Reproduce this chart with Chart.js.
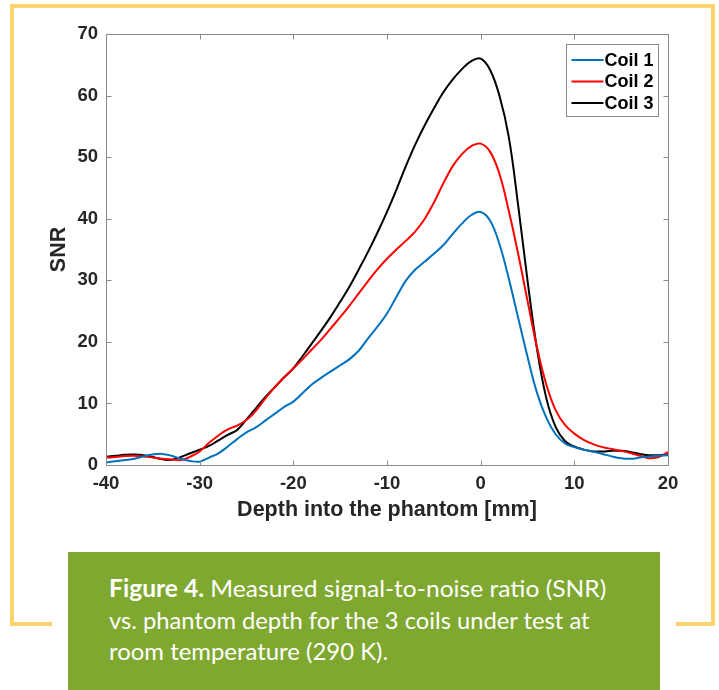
<!DOCTYPE html>
<html>
<head>
<meta charset="utf-8">
<script src="https://cdn.jsdelivr.net/npm/chart.js@4.4.1/dist/chart.umd.min.js"></script>
<style>
  html,body{margin:0;padding:0;background:#fff;}
  body{width:719px;height:690px;position:relative;overflow:hidden;}
  #frame{position:absolute;left:10px;top:4px;width:705px;height:622px;box-sizing:border-box;border:4px solid #fdd36e;}
  #gap{position:absolute;left:52px;top:620px;width:624px;height:10px;background:#fff;}
  #cap{position:absolute;left:68px;top:552px;width:592px;height:138px;background:#7ea82f;}
  .ln{position:absolute;left:109px;white-space:nowrap;color:#fff;font-family:Lato,"Open Sans",sans-serif;font-size:24px;line-height:1;transform-origin:0 100%;}
  .ln b{font-weight:700;}
  #chartWrap{position:absolute;left:0;top:0;width:719px;height:545px;}
</style>
</head>
<body>
<div id="frame"></div>
<div id="gap"></div>
<div id="cap"></div>
<div class="ln" id="l1" data-w="497" data-b="595"><b>Figure 4.</b> Measured signal-to-noise ratio (SNR)</div>
<div class="ln" id="l2" data-w="481" data-b="627">vs. phantom depth for the 3 coils under test at</div>
<div class="ln" id="l3" data-w="279" data-b="658">room temperature (290 K).</div>
<div id="chartWrap"><canvas id="c" width="719" height="545"></canvas></div>
<script>
// ---- data ----
const depth = [];
for (let d = -40; d <= 20; d++) depth.push(d);
const coil1 = [0.45,0.6,0.8,1.0,1.4,1.7,1.8,1.5,1.0,0.65,
  0.55,1.2,1.9,3.0,4.2,5.3,6.1,7.2,8.3,9.4,
  10.3,11.7,13.1,14.2,15.2,16.2,17.2,18.6,20.6,22.5,
  24.6,27.3,29.9,31.7,33.0,34.3,35.7,37.5,39.2,40.6,
  41.1,39.7,35.9,30.3,23.9,17.6,11.8,7.7,5.0,3.5,
  2.9,2.5,2.2,1.8,1.4,1.1,1.0,1.2,1.4,1.5,1.6];
const coil2 = [1.2,1.3,1.45,1.5,1.4,1.2,1.0,0.9,0.8,1.35,
  2.2,3.6,4.8,5.8,6.4,7.3,8.8,10.8,12.6,14.2,
  15.7,17.2,18.8,20.4,22.2,24.0,25.9,27.9,29.9,31.8,
  33.5,35.0,36.4,37.9,39.9,42.6,45.7,48.5,50.5,51.8,
  52.2,50.9,47.3,41.3,34.3,26.7,19.2,13.1,8.9,6.5,
  5.1,4.1,3.4,2.9,2.6,2.3,1.95,1.5,1.1,1.3,2.1];
const coil3 = [1.35,1.5,1.65,1.7,1.6,1.3,0.95,0.85,1.3,1.9,
  2.5,3.1,4.0,4.9,5.7,7.4,9.2,11.0,12.6,14.2,
  15.7,17.7,19.8,21.9,24.1,26.5,29.0,31.8,34.7,37.8,
  41.1,44.7,48.5,52.0,55.1,57.9,60.5,62.6,64.3,65.6,
  66.0,64.2,60.0,53.3,42.2,30.0,19.0,10.9,6.2,3.9,
  3.0,2.5,2.2,2.2,2.3,2.3,2.1,1.8,1.6,1.6,1.7];
const seriesNames = ['Coil 1','Coil 2','Coil 3'];
const xTicks = [-40,-30,-20,-10,0,10,20];
const yTicks = [0,10,20,30,40,50,60,70];
const xTitle = 'Depth into the phantom [mm]';
const yTitle = 'SNR';

// ---- caption line fitting ----
document.querySelectorAll('.ln').forEach(el => {
  const w = el.offsetWidth, h = el.offsetHeight;
  const k = (+el.dataset.w) / w;
  el.style.transform = 'scaleX(' + k + ')';
  el.style.top = (+el.dataset.b - h * 0.8) + 'px';
});

const colors = ['#0072BD', '#FF0000', '#000000'];
const AXIS = '#8a8a8a';
const TXT = '#262626';
const FONT = "'Liberation Sans', Arial, sans-serif";

const mk = arr => depth.map((d, i) => ({x: d, y: arr[i]}));
const dsets = [coil1, coil2, coil3].map((arr, i) => ({
  label: seriesNames[i], data: mk(arr), borderColor: colors[i],
  borderWidth: 2, pointRadius: 0, tension: 0.4, fill: false
}));

const boxPlugin = {
  id: 'matlabBox',
  afterDraw(chart) {
    const {ctx, chartArea: a, scales: {x, y}} = chart;
    ctx.save();
    ctx.strokeStyle = AXIS; ctx.lineWidth = 1;
    const L = Math.round(a.left) + 0.5, R = Math.round(a.right) + 0.5;
    const T = Math.round(a.top) + 0.5, B = Math.round(a.bottom) + 0.5;
    ctx.strokeRect(L, T, R - L, B - T);
    const tl = 5;
    ctx.beginPath();
    x.ticks.forEach(t => {
      const p = Math.round(x.getPixelForValue(t.value)) + 0.5;
      ctx.moveTo(p, B); ctx.lineTo(p, B - tl);
      ctx.moveTo(p, T); ctx.lineTo(p, T + tl);
    });
    y.ticks.forEach(t => {
      const p = Math.round(y.getPixelForValue(t.value)) + 0.5;
      ctx.moveTo(L, p); ctx.lineTo(L + tl, p);
      ctx.moveTo(R, p); ctx.lineTo(R - tl, p);
    });
    ctx.stroke();
    // legend
    const bx = Math.round(a.right) - 101.5, by = Math.round(a.top) + 10.5, bw = 92, bh = 72;
    ctx.fillStyle = '#fff';
    ctx.fillRect(bx, by, bw, bh);
    ctx.strokeStyle = AXIS;
    ctx.strokeRect(bx, by, bw, bh);
    ctx.font = 'bold 18px ' + FONT;
    ctx.textBaseline = 'middle';
    ctx.textAlign = 'left';
    chart.data.datasets.forEach((ds, i) => {
      const ry = by + 15.5 + i * 21.5;
      ctx.strokeStyle = ds.borderColor; ctx.lineWidth = 2;
      ctx.beginPath(); ctx.moveTo(bx + 5, ry); ctx.lineTo(bx + 37, ry); ctx.stroke();
      ctx.fillStyle = '#000';
      ctx.fillText(ds.label, bx + 38, ry + 1);
    });
    ctx.restore();
  }
};

new Chart(document.getElementById('c'), {
  type: 'line',
  data: {datasets: dsets},
  options: {
    responsive: false, animation: false, devicePixelRatio: 1,
    layout: {padding: {left: 0, right: 51, top: 34, bottom: 0}},
    plugins: {legend: {display: false}, tooltip: {enabled: false}},
    scales: {
      x: {
        type: 'linear', min: -40, max: 20,
        afterFit: s => { s.height = 80; },
        afterBuildTicks: s => { s.ticks = xTicks.map(v => ({value: v})); },
        grid: {display: false, drawTicks: false},
        border: {display: false},
        ticks: {padding: 8, color: TXT, font: {family: FONT, size: 18.5, weight: 'bold'}},
        title: {display: true, text: xTitle, color: TXT, padding: {top: 0, bottom: 22},
                font: {family: FONT, size: 21.5, weight: 'bold'}}
      },
      y: {
        min: 0, max: 70,
        afterFit: s => { s.width = 106; },
        afterBuildTicks: s => { s.ticks = yTicks.map(v => ({value: v})); },
        grid: {display: false, drawTicks: false},
        border: {display: false},
        ticks: {padding: 8, color: TXT, font: {family: FONT, size: 18.5, weight: 'bold'}},
        title: {display: true, text: yTitle, color: TXT, padding: {top: 46, bottom: 0},
                font: {family: FONT, size: 21.5, weight: 'bold'}}
      }
    }
  },
  plugins: [boxPlugin]
});
</script>
</body>
</html>
